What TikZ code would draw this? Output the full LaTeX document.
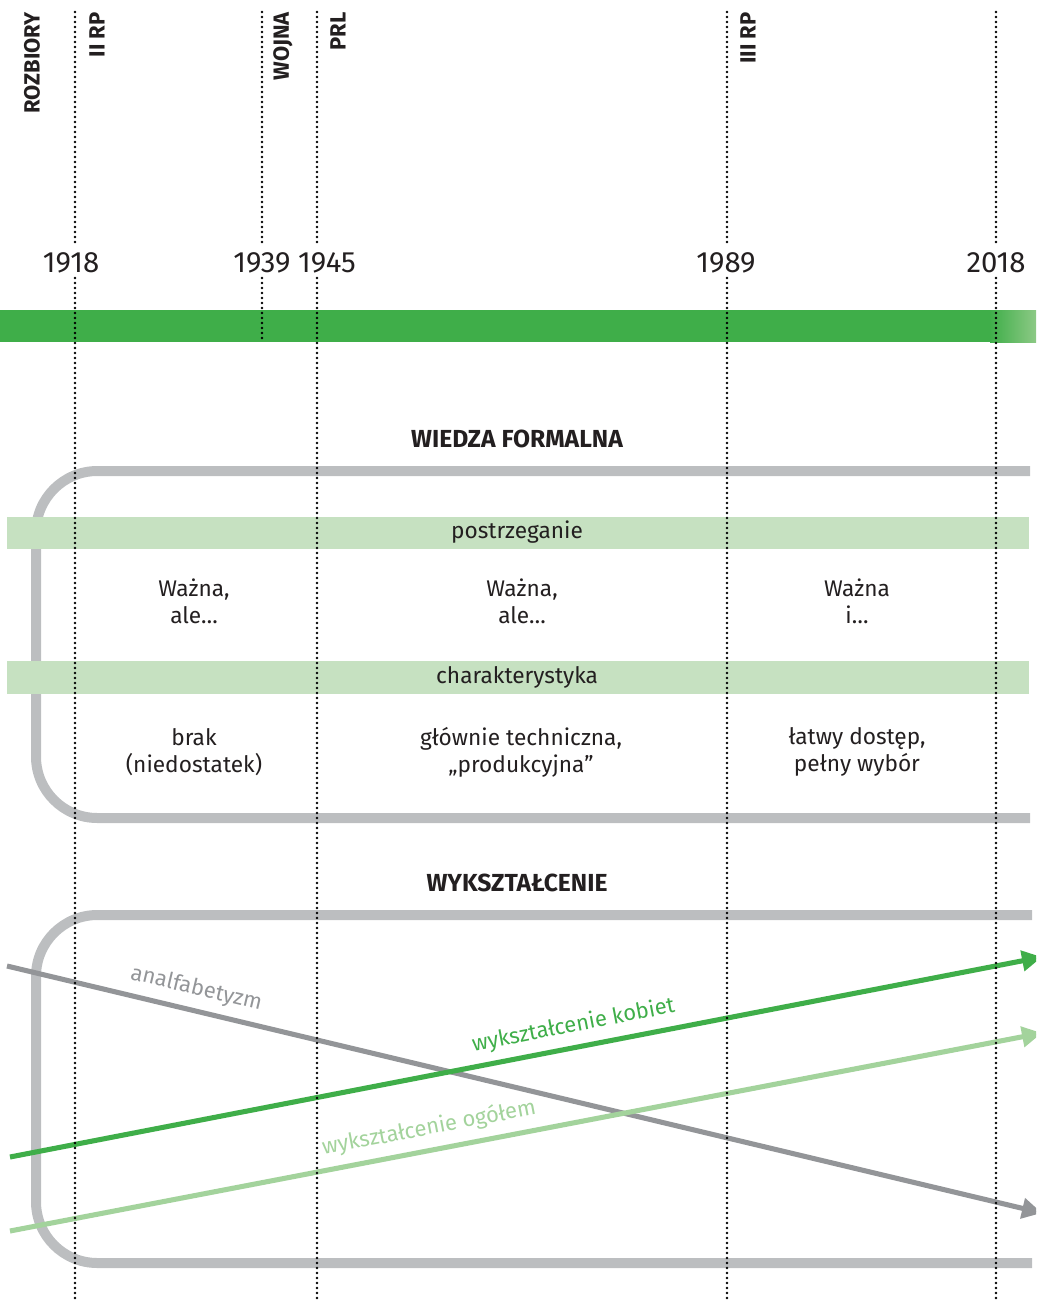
\documentclass[tikz,border=0pt]{standalone}
\usepackage{fontspec}
\setmainfont{Fira Sans}
\usetikzlibrary{arrows.meta,positioning}
\definecolor{tlgreen}{HTML}{3FAE49}
\definecolor{tlfade}{HTML}{8CC985}
\definecolor{tlpale}{HTML}{C6E1C1}
\definecolor{tlbox}{HTML}{BCBEC0}
\definecolor{tlgray}{HTML}{939598}
\definecolor{tllight}{HTML}{A3D39C}
\definecolor{tltext}{HTML}{231F20}
\newcommand{\boxw}{7.5pt}
\newcommand{\arrw}{3.8pt}
\newcommand{\rad}{46pt}
\tikzset{
  era/.style={rotate=90,anchor=east,inner sep=0pt,text=tltext,font=\bfseries\fontsize{16.5}{16.5}\selectfont},
  year/.style={inner sep=0pt,text=tltext,font=\fontsize{22}{22}\selectfont},
  head/.style={text=tltext,font=\bfseries\fontsize{18.5}{18.5}\selectfont},
  cell/.style={align=center,text=tltext,font=\fontsize{17}{20}\selectfont},
  band/.style={fill=tlpale,draw=none},
  frame/.style={draw=tlbox,line width=\boxw,rounded corners=\rad},
  trend/.style={line width=\arrw,-{Triangle[length=15pt,width=15pt]}},
  trendlabel/.style={sloped,above=3pt,font=\fontsize{16.5}{16.5}\selectfont},
  tick/.style={line width=2pt,line cap=round,dash pattern=on 0pt off 3.75pt},
}

\begin{document}
\begin{tikzpicture}[x=0.75pt,y=-0.75pt]
    %\draw[help lines,step=100] (0,0) grid (1036,1300);
    \useasboundingbox (0,0) rectangle (1036,1300);
    \clip (0,0) rectangle (1036,1300);

    % os czasu
    \fill[tlgreen] (0,310) rectangle (992,342);
    \shade[left color=tlgreen,right color=tlfade] (990,310) rectangle (1036,342);

    \node[era] (eRozbiory) at (32,12) {ROZBIORY};
    \node[era] (eIIRP) at (97,12) {II RP};
    \node[era] (eWojna) at (283,12) {WOJNA};
    \node[era] (ePRL) at (338,12) {PRL};
    \node[era] (eIIIRP) at (748,12) {III RP};

    \node[year] (y1918) at (71,263) {1918};
    \node[year] (y1939) at (262,263) {1939};
    \node[year] (y1945) at (327,263) {1945};
    \node[year] (y1989) at (726,263) {1989};
    \node[year] (y2018) at (996,263) {2018};

    % wiedza formalna
    \node[head] (hWiedza) at (517,439) {WIEDZA FORMALNA};
    \draw[frame] (1030,471) -- (36,471) -- (36,818) -- (1030,818);
    \fill[band] (7,517) rectangle (1029,549);
    \fill[band] (7,661) rectangle (1029,694);
    \node[cell] (bPostrz) at (517,532) {postrzeganie};
    \node[cell] (bCharakt) at (517,677) {charakterystyka};

    \node[cell] (p1) at (194,601) {Ważna,\\ale…};
    \node[cell] (p2) at (522,601) {Ważna,\\ale…};
    \node[cell] (p3) at (857,601) {Ważna\\i…};
    \node[cell] (c1) at (194,752) {brak\\(niedostatek)};
    \node[cell] (c2) at (521,752) {głównie techniczna,\\„produkcyjna”};
    \node[cell] (c3) at (857,752) {łatwy dostęp,\\pełny wybór};

    % wyksztalcenie
    \node[head] (hWykszt) at (517,883) {WYKSZTAŁCENIE};
    \draw[frame] (1032,915) -- (36,915) -- (36,1263) -- (1032,1263);

    \coordinate (anaS) at (7,966);
    \coordinate (anaE) at (1042,1213);
    \coordinate (kobS) at (10,1157);
    \coordinate (kobE) at (1042,957);
    \coordinate (ogS) at (10,1231);
    \coordinate (ogE) at (1042,1033);

    \draw[trend,tlgray] (anaS) -- (anaE)
        node[trendlabel,pos=0.178,text=tlgray] (lAna) {analfabetyzm};
    \draw[trend,tlgreen] (kobS) -- (kobE)
        node[trendlabel,pos=0.55,text=tlgreen] (lKob) {wykształcenie kobiet};
    \draw[trend,tllight] (ogS) -- (ogE)
        node[trendlabel,pos=0.41,text=tllight] (lOg) {wykształcenie ogółem};

    % linie lat
    \foreach \x/\yend in {75/1300,317/1300,727/1300,996/1300,262/342}{
        \draw[tick] (\x,12) -- (\x,247);
        \draw[tick] (\x,278) -- (\x,\yend);
    }
\end{tikzpicture}
\end{document}
